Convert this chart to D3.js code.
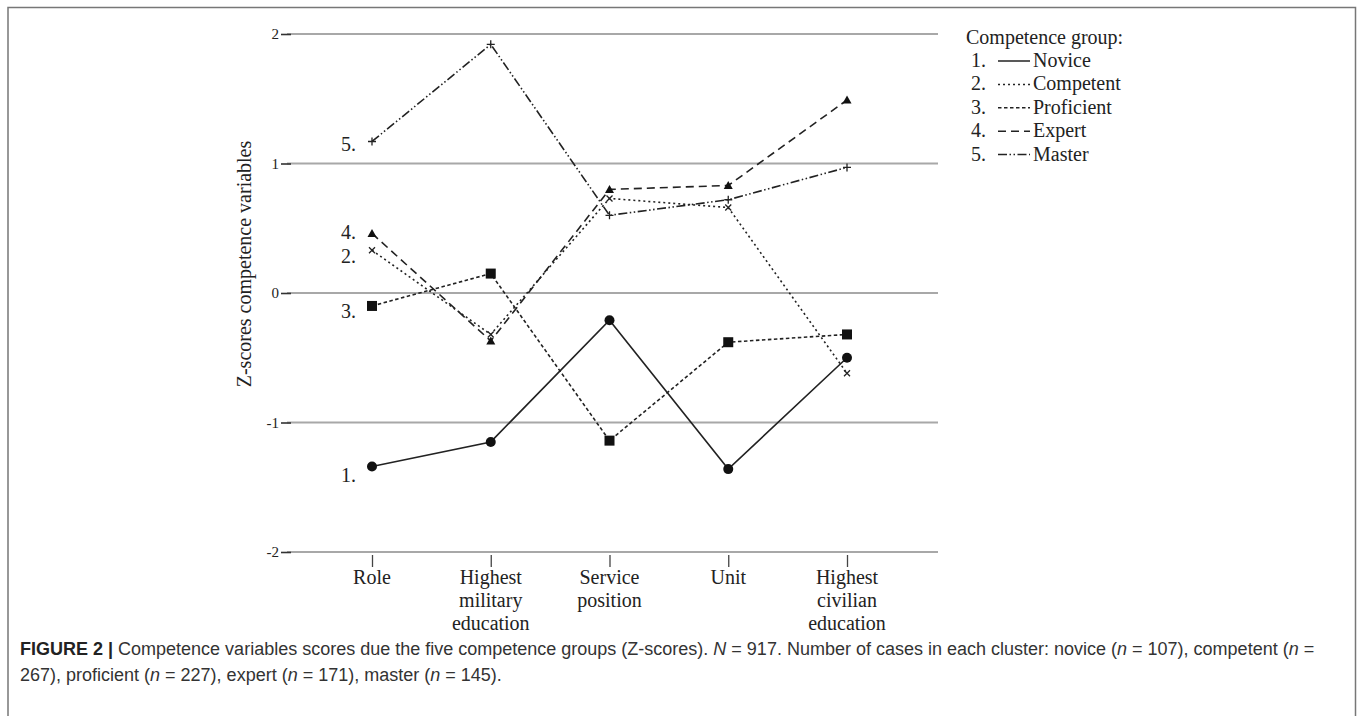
<!DOCTYPE html>
<html><head><meta charset="utf-8">
<script src="https://cdn.jsdelivr.net/npm/d3@7"></script>
<style>
html,body{margin:0;padding:0;background:#fff;}
svg{display:block;}
</style></head>
<body>
<svg id="c" width="1360" height="716"></svg>
<script>
const categories = [["Role"], ["Highest","military","education"], ["Service","position"], ["Unit"], ["Highest","civilian","education"]];
const seriesNames = ["Novice", "Competent", "Proficient", "Expert", "Master"];
const novice     = [-1.34, -1.15, -0.21, -1.36, -0.50];
const competent  = [0.33, -0.32, 0.73, 0.66, -0.62];
const proficient = [-0.10, 0.15, -1.14, -0.38, -0.32];
const expert     = [0.46, -0.37, 0.80, 0.83, 1.49];
const master     = [1.17, 1.92, 0.60, 0.72, 0.97];
const yTicks = [-2, -1, 0, 1, 2];

const allSeries = [novice, competent, proficient, expert, master];
const dashes = [null, "2,3", "3.5,2.5", "8,5", "9,2.5,1.5,2.5,1.5,2.5"];
const markers = ["circle", "x", "square", "triangle", "plus"];

const svg = d3.select("#c");
const serif = "'Liberation Serif','DejaVu Serif',serif";
const sans = "'Liberation Sans',Arial,sans-serif";
const ink = "#222";

// frame
svg.append("path").attr("d","M8,716 V7.5 H1355.5 V716").attr("fill","none").attr("stroke","#777").attr("stroke-width",1.5);

const x = d3.scalePoint().domain(d3.range(categories.length)).range([372, 847]);
const y = d3.scaleLinear().domain([-2, 2]).range([552, 34]);

// gridlines
svg.append("g").selectAll("line").data(yTicks).join("line")
  .attr("x1", 287).attr("x2", 938).attr("y1", d=>y(d)).attr("y2", d=>y(d))
  .attr("stroke", "#a8a8a8").attr("stroke-width", 1.8);

// y axis
const yAxis = d3.axisLeft(y).tickValues(yTicks).tickSize(10).tickPadding(2).tickFormat(d=>String(d));
const yg = svg.append("g").attr("transform","translate(291,0)").call(yAxis);
yg.select(".domain").remove();
yg.selectAll(".tick line").attr("stroke","#333").attr("stroke-width",1.6);
yg.selectAll(".tick text").attr("font-family",serif).attr("font-size",15).attr("fill",ink);

// y title
svg.append("text").attr("transform","translate(251,264) rotate(-90)")
  .attr("text-anchor","middle").attr("font-family",serif).attr("font-size",20).attr("fill",ink)
  .text("Z-scores competence variables");

// x axis
const xAxis = d3.axisBottom(x).tickSize(12).tickFormat("");
const xg = svg.append("g").attr("transform","translate(0,555)").call(xAxis);
xg.select(".domain").remove();
xg.selectAll(".tick line").attr("stroke","#444").attr("stroke-width",1.3);
categories.forEach((lines,i)=>{
  const t = svg.append("text").attr("font-family",serif).attr("font-size",20).attr("fill",ink).attr("text-anchor","middle");
  lines.forEach((l,j)=>t.append("tspan").attr("x",x(i)).attr("y",584+j*23).text(l));
});

// lines
const line = d3.line().x((d,i)=>x(i)).y(d=>y(d));
allSeries.forEach((s,k)=>{
  svg.append("path").datum(s).attr("d",line).attr("fill","none")
    .attr("stroke",ink).attr("stroke-width",1.6)
    .attr("stroke-dasharray",dashes[k]);
});

function marker(g, type, cx, cy){
  if(type==="circle") g.append("circle").attr("cx",cx).attr("cy",cy).attr("r",5).attr("fill","#111");
  else if(type==="square") g.append("rect").attr("x",cx-5).attr("y",cy-5).attr("width",10).attr("height",10).attr("fill","#111");
  else if(type==="triangle") g.append("path").attr("d",`M${cx},${cy-4.5}L${cx+4.5},${cy+3.5}L${cx-4.5},${cy+3.5}Z`).attr("fill","#111");
  else if(type==="x") g.append("path").attr("d",`M${cx-3},${cy-3}L${cx+3},${cy+3}M${cx+3},${cy-3}L${cx-3},${cy+3}`).attr("stroke",ink).attr("stroke-width",1.3);
  else if(type==="plus") g.append("path").attr("d",`M${cx-4},${cy}L${cx+4},${cy}M${cx},${cy-4}L${cx},${cy+4}`).attr("stroke",ink).attr("stroke-width",1.3);
}
const mg = svg.append("g");
allSeries.forEach((s,k)=>s.forEach((v,i)=>marker(mg, markers[k], x(i), y(v))));

// series labels at start
const labelOffsets = [8, 6, 5, -1, 3];
allSeries.forEach((s,k)=>{
  svg.append("text").attr("x",356).attr("y",y(s[0])+labelOffsets[k]+7)
    .attr("text-anchor","end").attr("font-family",serif).attr("font-size",20).attr("fill",ink)
    .text((k+1)+".");
});

// legend
const lg = svg.append("g").attr("font-family",serif).attr("font-size",20).attr("fill",ink);
lg.append("text").attr("x",966).attr("y",44).text("Competence group:");
seriesNames.forEach((n,k)=>{
  const yy = 61 + k*23.4;
  lg.append("text").attr("x",986).attr("y",yy+6).attr("text-anchor","end").text((k+1)+".");
  lg.append("line").attr("x1",998).attr("x2",1030).attr("y1",yy).attr("y2",yy)
    .attr("stroke",ink).attr("stroke-width",1.5).attr("stroke-dasharray",dashes[k]);
  lg.append("text").attr("x",1033).attr("y",yy+6).text(n);
});

// caption
const cap = svg.append("g").attr("font-family",sans).attr("font-size",18).attr("fill","#333");
const t1 = cap.append("text").attr("x",20).attr("y",655);
t1.append("tspan").attr("font-weight","bold").attr("fill","#222").text("FIGURE 2 |");
t1.append("tspan").text(" Competence variables scores due the five competence groups (Z-scores). ");
t1.append("tspan").attr("font-style","italic").text("N");
t1.append("tspan").text(" = 917. Number of cases in each cluster: novice (");
t1.append("tspan").attr("font-style","italic").text("n");
t1.append("tspan").text(" = 107), competent (");
t1.append("tspan").attr("font-style","italic").text("n");
t1.append("tspan").text(" =");
const t2 = cap.append("text").attr("x",20).attr("y",681);
t2.append("tspan").text("267), proficient (");
t2.append("tspan").attr("font-style","italic").text("n");
t2.append("tspan").text(" = 227), expert (");
t2.append("tspan").attr("font-style","italic").text("n");
t2.append("tspan").text(" = 171), master (");
t2.append("tspan").attr("font-style","italic").text("n");
t2.append("tspan").text(" = 145).");
</script>
</body></html>
